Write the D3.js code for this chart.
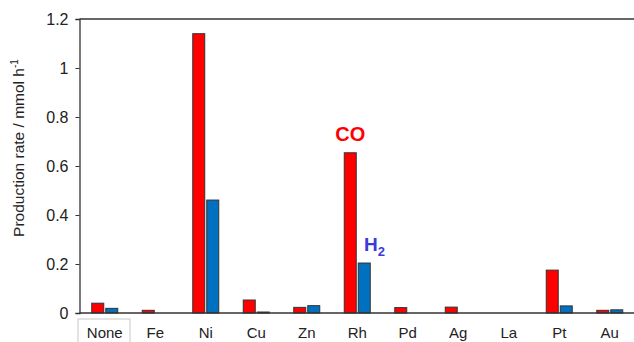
<!DOCTYPE html>
<html>
<head>
<meta charset="utf-8">
<script src="https://cdn.jsdelivr.net/npm/d3@7"></script>
<style>
  body { margin: 0; background: #fff; }
  svg text { font-family: "Liberation Sans", Arial, sans-serif; }
</style>
</head>
<body>
<div id="chart-container"></div>
<script>
// data
var metals = ["None", "Fe", "Ni", "Cu", "Zn", "Rh", "Pd", "Ag", "La", "Pt", "Au"];
var coRate = [0.040, 0.011, 1.140, 0.053, 0.023, 0.654, 0.022, 0.024, 0, 0.175, 0.011];
var h2Rate = [0.019, 0, 0.461, 0.004, 0.030, 0.204, 0, 0, 0, 0.029, 0.013];
var series = ["CO", "H2"];
var yTicks = [0, 0.2, 0.4, 0.6, 0.8, 1, 1.2];

var dataset = metals.map(function(m, i){
    return {name: m, CO: coRate[i], H2: h2Rate[i]};
});

function barChart(dataset){
    var w = 634;
    var h = 342;
    var left = 79.5;
    var right = 635;
    var top = 19;
    var bottom = 313;

    var colors = {CO: "#ff0000", H2: "#0070c0"};

    var svg = d3.select("#chart-container").append("svg")
        .attr("width", w).attr("height", h);

    var xScale = d3.scaleBand()
        .range([left, right])
        .padding(0)
        .domain(metals);

    var xSub = d3.scaleBand()
        .domain(series)
        .range([-13, 13])
        .paddingInner(1/7);

    var yScale = d3.scaleLinear()
        .domain([0, 1.2])
        .range([bottom, top]);

    //top frame line
    svg.append("line")
        .attr("x1", left).attr("x2", w)
        .attr("y1", yScale(1.2)).attr("y2", yScale(1.2))
        .attr("stroke", "#333").attr("stroke-width", 1.3);

    //bars
    var groups = svg.selectAll("g.metal")
        .data(dataset)
        .enter()
        .append("g")
        .attr("class", "metal")
        .attr("transform", function(d){
            return "translate(" + (xScale(d.name) + xScale.bandwidth() / 2) + ",0)";
        });

    groups.selectAll("rect")
        .data(function(d){
            return series.map(function(s){ return {key: s, value: d[s]}; });
        })
        .enter()
        .filter(function(d){ return d.value > 0; })
        .append("rect")
        .attr("x", function(d){ return xSub(d.key); })
        .attr("y", function(d){ return yScale(d.value); })
        .attr("width", xSub.bandwidth())
        .attr("height", function(d){ return yScale(0) - yScale(d.value); })
        .attr("fill", function(d){ return colors[d.key]; })
        .attr("stroke", "#333")
        .attr("stroke-width", 1);

    //y axis
    var yAxis = d3.axisLeft(yScale)
        .tickValues(yTicks)
        .tickSize(4)
        .tickPadding(7)
        .tickFormat(function(d){ return String(d); });

    var gy = svg.append("g")
        .attr("transform", "translate(" + left + ",0)")
        .call(yAxis)
        .attr("font-size", 16)
        .attr("font-family", null);
    gy.select(".domain").attr("stroke", "#333").attr("stroke-width", 1.3);
    gy.selectAll(".tick line").attr("stroke", "#333");
    gy.selectAll("text").attr("fill", "#222");

    //x axis line
    svg.append("line")
        .attr("x1", left).attr("x2", w)
        .attr("y1", yScale(0)).attr("y2", yScale(0))
        .attr("stroke", "#333").attr("stroke-width", 1.5);

    //box around None
    svg.append("rect")
        .attr("x", xScale("None") - 1.5)
        .attr("y", 319)
        .attr("width", xScale.bandwidth() + 1.5)
        .attr("height", 30)
        .attr("fill", "none")
        .attr("stroke", "#c8c8c8")
        .attr("stroke-width", 1);

    //category labels
    svg.selectAll("text.cat")
        .data(metals)
        .enter()
        .append("text")
        .attr("class", "cat")
        .attr("x", function(d){ return xScale(d) + xScale.bandwidth() / 2; })
        .attr("y", 338)
        .attr("text-anchor", "middle")
        .attr("font-size", 15)
        .attr("fill", "#222")
        .text(function(d){ return d; });

    //y axis title
    var title = svg.append("text")
        .attr("transform", "translate(24," + 148 + ") rotate(-90)")
        .attr("text-anchor", "middle")
        .attr("font-size", 15.5)
        .attr("fill", "#222");
    title.append("tspan").text("Production rate / mmol h");
    title.append("tspan").attr("font-size", 10).attr("dy", -6).text("-1");

    //series labels
    svg.append("text")
        .attr("x", xScale("Rh") + xScale.bandwidth() / 2 + xSub("CO") + xSub.bandwidth() / 2)
        .attr("y", 141)
        .attr("text-anchor", "middle")
        .attr("font-size", 20)
        .attr("font-weight", "bold")
        .attr("fill", "#ff0000")
        .text("CO");

    var h2 = svg.append("text")
        .attr("x", 364)
        .attr("y", 251)
        .attr("font-size", 19)
        .attr("font-weight", "bold")
        .attr("fill", "#3b3bdb");
    h2.append("tspan").text("H");
    h2.append("tspan").attr("font-size", 13).attr("dy", 5).text("2");
}

barChart(dataset);
</script>
</body>
</html>
